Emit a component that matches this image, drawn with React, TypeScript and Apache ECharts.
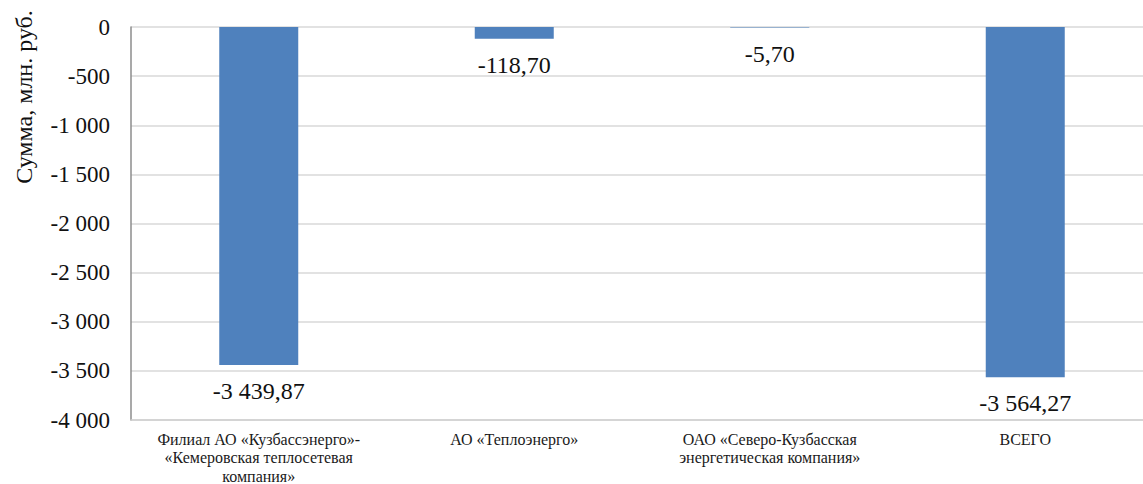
import React, { useEffect, useRef, useState } from "react";
import * as echarts from "echarts";

const categories = [
  "Филиал АО «Кузбассэнерго»-\n«Кемеровская теплосетевая\nкомпания»",
  "АО «Теплоэнерго»",
  "ОАО «Северо-Кузбасская\nэнергетическая компания»",
  "ВСЕГО",
];
const values = [-3439.87, -118.7, -5.7, -3564.27];
const yAxisName = "Сумма, млн. руб.";

const groupThousands = (s: string) => s.replace(/\B(?=(\d{3})+(?!\d))/g, " ");
const fmtTick = (v: number) => (v < 0 ? "-" : "") + groupThousands(String(Math.abs(v)));
const fmtValue = (v: number) => {
  const [i, d] = Math.abs(v).toFixed(2).split(".");
  return (v < 0 ? "-" : "") + groupThousands(i) + "," + d;
};

const serif = "Liberation Serif";

export default function App() {
  const ref = useRef<HTMLDivElement>(null);
  const [probe, setProbe] = useState("");
  useEffect(() => {
    document.body.style.margin = "0";
    const chart = echarts.init(ref.current!, undefined, { renderer: "svg" });
    chart.setOption({
      animation: false,
      grid: { left: 131, top: 27, width: 1022, height: 393, outerBoundsMode: "none" },
      xAxis: {
        type: "category",
        data: categories,
        axisLine: { onZero: false, lineStyle: { color: "#d0d0d0", width: 1.5 } },
        axisTick: { show: false },
        axisLabel: {
          interval: 0,
          fontFamily: serif,
          fontSize: 16,
          lineHeight: 18.5,
          margin: 10,
          color: "#1a1a1a",
        },
      },
      yAxis: {
        type: "value",
        min: -4000,
        max: 0,
        interval: 500,
        axisLine: { show: true, lineStyle: { color: "#8c8c8c", width: 1.5 } },
        axisTick: { show: false },
        splitLine: { lineStyle: { color: "#d9d9d9", width: 1.5 } },
        axisLabel: {
          formatter: fmtTick,
          fontFamily: serif,
          fontSize: 23,
          color: "#111",
          margin: 21,
        },
      },
      graphic: [
        {
          type: "text",
          x: 24,
          y: 97,
          rotation: Math.PI / 2,
          style: {
            text: yAxisName,
            font: `24px ${serif}`,
            fill: "#111",
            align: "center",
            verticalAlign: "middle",
          },
        },
      ],
      series: [
        {
          type: "bar",
          data: values,
          barWidth: 79,
          itemStyle: { color: "#4F81BD" },
          label: {
            show: true,
            position: "bottom",
            distance: 14,
            formatter: (p: any) => fmtValue(p.value),
            fontFamily: serif,
            fontSize: 24,
            color: "#111",
            textBorderWidth: 0,
          },
        },
      ],
    });
    const texts = Array.from(ref.current!.querySelectorAll("text"));
    let n = 0;
    texts.forEach((t) => {
      n += t.outerHTML.length + getComputedStyle(t).fontFamily.length;
    });
    setProbe(n > 0 ? "\u00a0" : "");
    return () => chart.dispose();
  }, []);
  return (
    <div style={{ position: "relative" }}>
      <div ref={ref} style={{ width: 1143, height: 484 }} />
      <pre
        style={{
          position: "absolute",
          left: 0,
          top: 0,
          margin: 0,
          fontSize: 10,
          fontFamily: "DejaVu Sans Mono",
          pointerEvents: "none",
        }}
      >
        {probe}
      </pre>
    </div>
  );
}
